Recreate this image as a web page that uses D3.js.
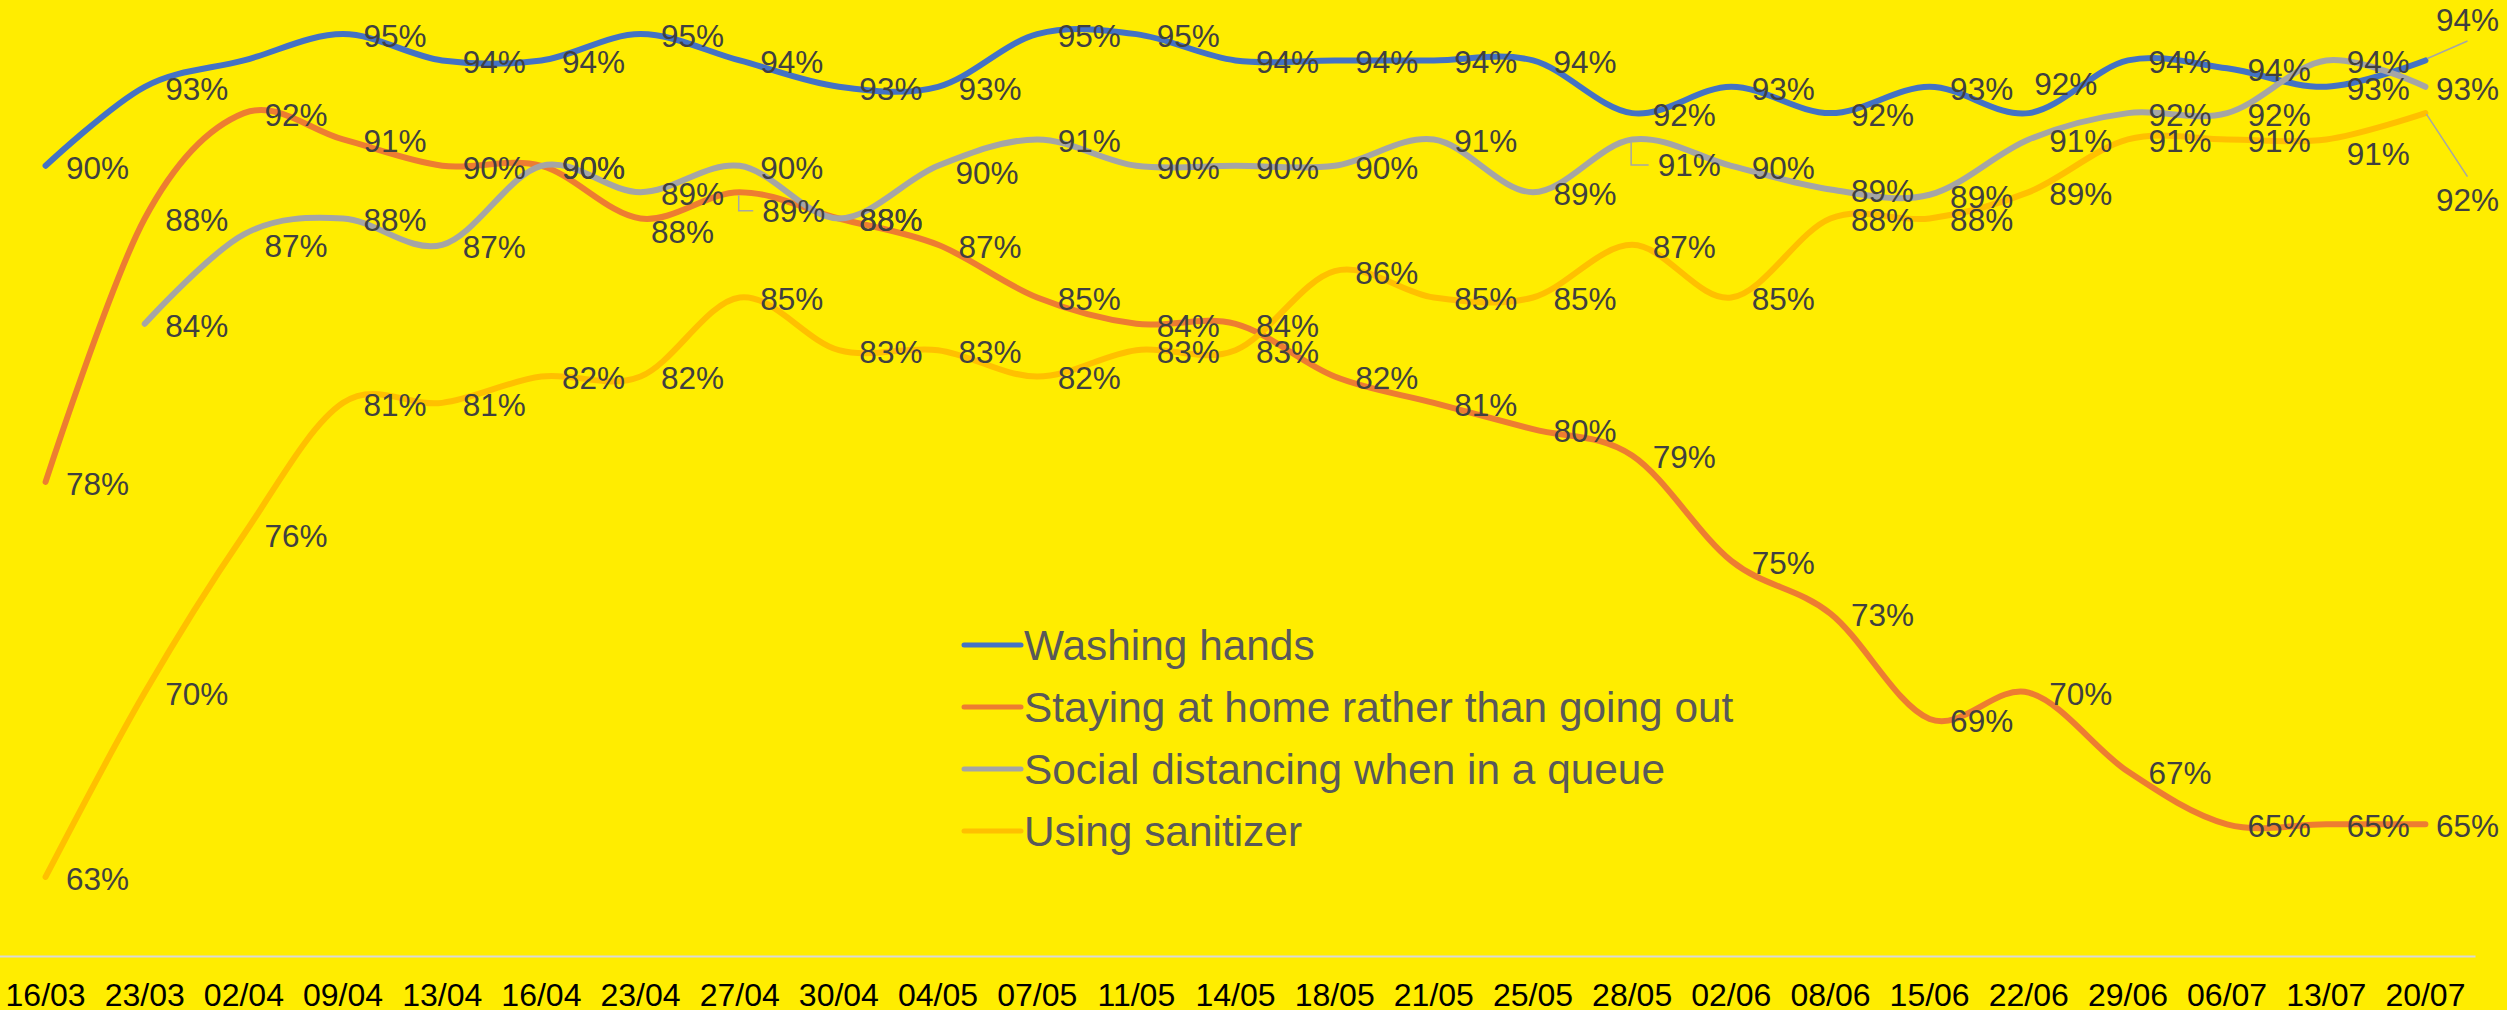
<!DOCTYPE html>
<html>
<head>
<meta charset="utf-8">
<script src="https://cdn.jsdelivr.net/npm/d3@7"></script>
<style>
html,body{margin:0;padding:0;background:#FFED00;overflow:hidden}
text{font-family:"Liberation Sans",Arial,sans-serif}
</style>
</head>
<body>
<svg id="c" width="2507" height="1010"></svg>
<script>
// ---------- data ----------
const categories = ["16/03","23/03","02/04","09/04","13/04","16/04","23/04","27/04","30/04","04/05","07/05","11/05","14/05","18/05","21/05","25/05","28/05","02/06","08/06","15/06","22/06","29/06","06/07","13/07","20/07"];
const seriesNames = ["Washing hands","Staying at home rather than going out","Social distancing when in a queue","Using sanitizer"];
const washingHands     = [90,93,94,95,94,94,95,94,93,93,95,95,94,94,94,94,92,93,92,93,92,94,93.7,93,94];
const stayingAtHome    = [78,88,92,91,90,90,88,89,88,87,85,84,84,82,81,80,79,75,73,69,70,67,65,65,65];
const socialDistancing = [null,84,87.4,88,87,90,89,90,88,90,91,90,90,90,91,89,91,90,89.1,88.9,91,92,92,94,93];
const usingSanitizer   = [63,70,76,81,81,82,82,85,83,83,82,83,83,86,85,85,87,85,88,88,89,91,91,91,92];
const seriesValues = [washingHands, stayingAtHome, socialDistancing, usingSanitizer];

// ---------- styling / layout ----------
const colors = ["#4472C4","#ED7D31","#A5A5A5","#FFC000"];
const W = 2507, H = 1010;
// manual data-label adjustments (layout only)
const labelAdjust = [
  {s:0, i:2, hide:true},
  {s:1, i:6, dx:-10, dy:12},
  {s:1, i:7, dx:2, dy:17, leader:"elbow"},
  {s:2, i:2, dy:10},
  {s:2, i:9, dx:-3, dy:5},
  {s:2, i:16, dx:5, dy:24, leader:"elbow"},
  {s:0, i:20, dx:-15, dy:-31},
  {s:3, i:23, dy:13},
  {s:0, i:24, dy:-42, leader:"up"},
  {s:3, i:24, dy:85, leader:"down"}
];

const svg = d3.select("#c");
svg.append("rect").attr("width", W).attr("height", H).attr("fill", "#FFED00");

const xb = d3.scaleBand().domain(categories).range([-4, 2475]);
const xc = c => xb(c) + xb.bandwidth() / 2;
const pxPerPct = 26.34;
const y = d3.scaleLinear().domain([60, 96]).range([956, 956 - 36 * pxPerPct]);

// axis
const ax = svg.append("g").attr("transform", "translate(0,956)")
  .call(d3.axisBottom(xb).tickSize(0).tickSizeOuter(0).tickPadding(27));
ax.select(".domain").attr("stroke", "#D9D9D9").attr("stroke-width", 2);
ax.selectAll(".tick text").attr("font-size", "32px").attr("fill", "#000")
  .attr("font-family", "'Liberation Sans',Arial,sans-serif");

// lines
const line = d3.line()
  .defined(d => d.v != null)
  .x(d => xc(d.c))
  .y(d => y(d.v))
  .curve(d3.curveCatmullRom.alpha(0));

const lineG = svg.append("g");
seriesValues.forEach((vals, s) => {
  const pts = categories.map((c, i) => ({c, v: vals[i]}));
  lineG.append("path")
    .datum(pts)
    .attr("d", line)
    .attr("fill", "none")
    .attr("stroke", colors[s])
    .attr("stroke-width", 6)
    .attr("stroke-linecap", "round")
    .attr("stroke-linejoin", "round");
});

// data labels
const labelG = svg.append("g");
const leaderG = svg.append("g");
const fs = 31.5;
seriesValues.forEach((vals, s) => {
  vals.forEach((v, i) => {
    if (v == null) return;
    const adj = labelAdjust.find(a => a.s === s && a.i === i) || {};
    if (adj.hide) return;
    const px = xc(categories[i]), py = y(v);
    const t = labelG.append("text")
      .attr("font-size", fs + "px")
      .attr("fill", "#404040")
      .text(Math.round(v) + "%");
    const w = t.node().getComputedTextLength();
    let left = px + 20.5 + (adj.dx || 0);
    if (left + w > 2499) left = 2499 - w;
    const cy = py + 1.5 + (adj.dy || 0);
    t.attr("x", left).attr("y", cy + 0.358 * fs);
    if (adj.leader) {
      let pts;
      if (adj.leader === "elbow") {
        pts = [[px - 1, py + 3], [px - 1, cy], [left - 9, cy]];
      } else if (adj.leader === "up") {
        pts = [[px + 2, py - 2], [left + w / 2, cy + 21]];
      } else {
        pts = [[px + 1, py + 1], [left + w / 2, cy - 23]];
      }
      leaderG.append("path")
        .attr("d", d3.line()(pts))
        .attr("fill", "none")
        .attr("stroke", "#A6A6A6")
        .attr("stroke-width", 1.5);
    }
  });
});

// legend
const legend = svg.append("g").attr("transform", "translate(964,645)");
seriesNames.forEach((name, s) => {
  const g = legend.append("g").attr("transform", `translate(0,${s * 62})`);
  g.append("line").attr("x1", 0).attr("x2", 57).attr("y1", 0).attr("y2", 0)
    .attr("stroke", colors[s]).attr("stroke-width", 5).attr("stroke-linecap", "round");
  g.append("text").attr("x", 60).attr("y", 0.358 * 42.4)
    .attr("font-size", "42.4px").attr("fill", "#595959").text(name);
});
</script>
</body>
</html>
